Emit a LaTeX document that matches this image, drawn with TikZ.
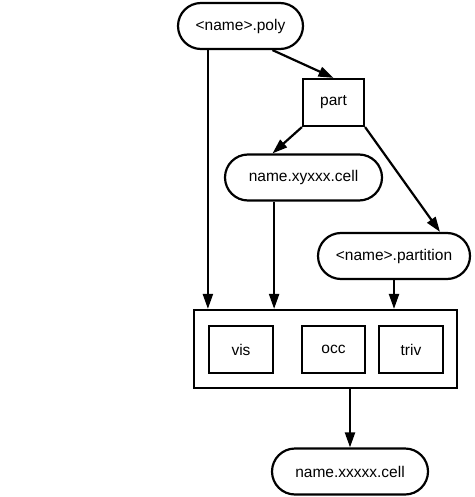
\documentclass[tikz,border=0pt]{standalone}
\usepackage{fontspec}
\setmainfont{Liberation Sans}
\usetikzlibrary{arrows.meta, shapes.misc}

\begin{document}
\begin{tikzpicture}[x=1pt, y=-1pt,
    every node/.style={font=\fontsize{15.5}{18}\selectfont, line width=2.2pt, inner sep=0pt},
    file/.style={rounded rectangle, draw, minimum height=46pt},
    prog/.style={rectangle, draw, minimum height=47pt},
    arr/.style={-{Triangle[length=15pt,width=10pt]}, line width=2.2pt}]
     \useasboundingbox (0,0) rectangle (474,497);
     \node [file, minimum width=125pt] (poly) at (240.5,26) {<name>.poly};
     \node [prog, minimum width=61pt] (part) at (333.5,102.5) {part};
     \node [file, minimum width=157pt] (cell) at (303.5,177.5) {name.xyxxx.cell};
     \node [file, minimum width=152pt] (partition) at (394,256) {<name>.partition};
     \node [prog, minimum width=263pt, minimum height=78pt] (tools) at (325.5,349) {};
     \node [prog, minimum width=64pt] (vis) at (241,349.5) {vis};
     \node [prog, minimum width=63pt] (occ) at (333.5,349.5) {occ};
     \node [prog, minimum width=64pt] (triv) at (411,349.5) {triv};
     \node [file, minimum width=156pt] (out) at (350,471.5) {name.xxxxx.cell};
     \draw[arr] (poly.south -| vis.west) -- (tools.north -| vis.west);
     \draw[arr] ([xshift=32pt]poly.south) -- (part.north);
     \draw[arr] (part.south east) -- ([xshift=46pt]partition.north);
     \draw[arr] (part.south west) -- ([xshift=-31pt]cell.north);
     \draw[arr] (cell.south -| vis.east) -- (tools.north -| vis.east);
     \draw[arr] (partition.south) -- (tools.north -| partition.south);
     \draw[arr] (tools.south -| out.north) -- (out.north);
  \end{tikzpicture}
\end{document}
